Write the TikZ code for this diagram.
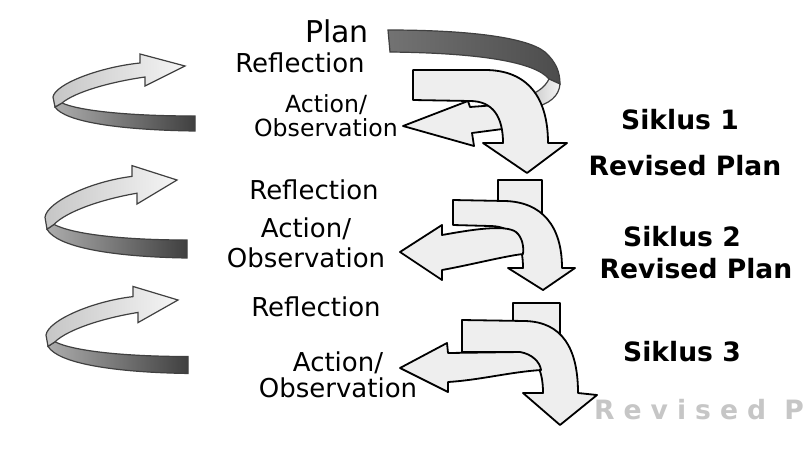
\documentclass[tikz,border=0pt]{standalone}
\usepackage{fontspec}
\setmainfont{DejaVu Sans}
\begin{document}
\begin{tikzpicture}
		[x=0.5pt, y=-0.5pt,
		labsty/.style={font=\fontsize{13}{13}\selectfont, align=center, inner sep=0},
		boldsty/.style={font=\fontsize{13.3}{14}\selectfont\bfseries, inner sep=0},
		backsty/.style={draw=black!75, line width=0.6pt, left color=gray!65, right color=black!75},
		frontsty/.style={draw=black!75, line width=0.6pt, left color=gray!45, right color=gray!8},
		bigsty/.style={draw=black, line width=0.9pt, fill=gray!13, line join=round}]
		\fill[white] (0,0) rectangle (806,450);
		\useasboundingbox (0,0) rectangle (806,450);
		
		\foreach \x/\y/\s in {185/66/1, 177/180/1.2, 178/300/1.13} {
			\begin{scope}[shift={(\x,\y)}, yscale=\s]
				\draw[backsty] (10,50) -- (10,65) .. controls (-65,64) and (-120,56) .. (-130,41) -- (-123,37) .. controls (-105,45) and (-55,50) .. (10,50) -- cycle;
				\draw[frontsty] (-130,41) -- (-132,31) .. controls (-130,18) and (-85,1) .. (-45,-3) -- (-45,-12) -- (0,0) -- (-40,20) -- (-40,11) .. controls (-75,16) and (-110,26) .. (-123,37) -- cycle;
			\end{scope}
		}
		
		\draw[backsty, left color=black!55, right color=black!70] (388,30) .. controls (460,30) and (525,36) .. (545,52) .. controls (556,62) and (560,72) .. (560,84) -- (549,79) .. controls (535,62) and (480,53) .. (390,52) -- cycle;
		\draw[frontsty] (549,79) -- (560,84) .. controls (559,96) and (550,104) .. (532,108) -- (528,96) .. controls (538,92) and (545,87) .. (549,79) -- cycle;
		
		\draw[bigsty] (403,126) -- (468,101) -- (470,107) -- (510,104) -- (510,128) -- (472,133) -- (474,146) -- cycle;
		\draw[bigsty] (413,70) -- (485,70) .. controls (528,70) and (548,98) .. (548,143) -- (567,143) -- (527,173) -- (483,143) -- (503,143) .. controls (503,117) and (493,101) .. (470,101) -- (413,100) -- cycle;
		
		\draw[bigsty] (498,180) rectangle (542,215);
		\draw[bigsty] (453,200) -- (505,201) .. controls (542,202) and (562,226) .. (562,268) -- (575,268) -- (543,290) -- (508,268) -- (523,268) .. controls (523,244) and (515,226) .. (490,226) -- (453,225) -- cycle;
		\draw[bigsty] (400,252) -- (442,225) -- (442,235) .. controls (470,230) and (505,224) .. (516,232) .. controls (522,237) and (524,246) .. (523,254) .. controls (505,256) and (470,265) .. (442,270) -- (442,280) -- cycle;
		
		\draw[bigsty] (513,303) rectangle (560,335);
		\draw[bigsty] (462,320) -- (525,321) .. controls (562,322) and (578,348) .. (578,393) -- (597,395) -- (560,425) -- (523,393) -- (543,393) .. controls (543,368) and (535,352) .. (510,352) -- (462,352) -- cycle;
		\draw[bigsty] (400,368) -- (447,343) -- (448,353) -- (520,352) .. controls (532,354) and (540,362) .. (541,370) .. controls (510,372) and (480,380) .. (448,382) -- (448,392) -- cycle;
		
		\node (text 1) at (337,31) [labsty, font=\fontsize{15}{15}\selectfont] {Plan};
		\node (text 2) at (300,63) [labsty] {Reflection};
		\node (text 3) at (326,116) [labsty, font=\fontsize{11.8}{12.5}\selectfont] {Action/\\[-0.5pt]Observation};
		\node (text 4) at (680,120) [boldsty] {Siklus 1};
		\node (text 5) at (685,166) [boldsty] {Revised Plan};
		\node (text 6) at (314,190) [labsty] {Reflection};
		\node (text 7) at (306,243) [labsty] {Action/\\[2pt]Observation};
		\node (text 8) at (682,237) [boldsty] {Siklus 2};
		\node (text 9) at (696,269) [boldsty] {Revised Plan};
		\node (text 10) at (316,307) [labsty] {Reflection};
		\node (text 11) at (338,375) [labsty] {Action/\\Observation};
		\node (text 12) at (682,352) [boldsty] {Siklus 3};
		\node (text 13) at (699,410) [boldsty, text=gray!45] {\addfontfeature{LetterSpace=34}Revised P};
	\end{tikzpicture}
\end{document}
